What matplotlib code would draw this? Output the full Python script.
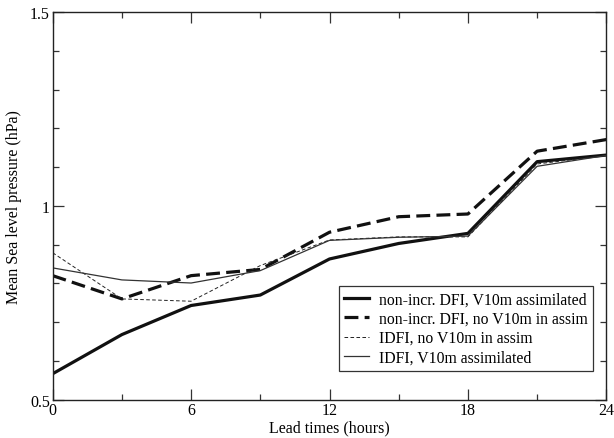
import matplotlib
matplotlib.use('Agg')
import matplotlib.pyplot as plt
from matplotlib.ticker import MultipleLocator, FormatStrFormatter

# lead times (hours)
hours = [0, 3, 6, 9, 12, 15, 18, 21, 24]

# mean sea level pressure error (hPa)
dfi_v10m = [0.567, 0.668, 0.743, 0.770, 0.863, 0.903, 0.929, 1.114, 1.131]
dfi_no_v10m = [0.820, 0.760, 0.820, 0.836, 0.932, 0.972, 0.979, 1.141, 1.171]
idfi_no_v10m = [0.879, 0.760, 0.754, 0.846, 0.912, 0.920, 0.920, 1.108, 1.130]
idfi_v10m = [0.840, 0.809, 0.801, 0.833, 0.911, 0.919, 0.922, 1.102, 1.130]

labels = ['non-incr. DFI, V10m assimilated',
          'non-incr. DFI, no V10m in assim',
          'IDFI, no V10m in assim',
          'IDFI, V10m assimilated']

plt.rcParams['font.family'] = ['Liberation Serif', 'DejaVu Serif']
plt.rcParams['lines.scale_dashes'] = False

fig = plt.figure(figsize=(6.14, 4.39), dpi=100)
ax = fig.add_axes([0.0858, 0.0872, 0.9017, 0.8832])

ax.plot(hours, dfi_v10m, color='#111111', lw=2.3, label=labels[0])
ax.plot(hours, dfi_no_v10m, color='#111111', lw=2.3, dashes=(10, 4.5), label=labels[1])
ax.plot(hours, idfi_no_v10m, color='#222222', lw=0.7, dashes=(2.6, 1.7), label=labels[2])
ax.plot(hours, idfi_v10m, color='#333333', lw=0.9, label=labels[3])

ax.set_xlim(0, 24)
ax.set_ylim(0.5, 1.5)
ax.xaxis.set_major_locator(MultipleLocator(6))
ax.xaxis.set_minor_locator(MultipleLocator(3))
ax.yaxis.set_major_locator(MultipleLocator(0.5))
ax.yaxis.set_minor_locator(MultipleLocator(0.1))
ax.yaxis.set_major_formatter(FormatStrFormatter('%g'))

ax.tick_params(which='both', direction='in', top=True, right=True,
               labelsize=11.5, pad=2, width=0.9, color='#333333')
ax.tick_params(which='major', length=8)
ax.tick_params(which='minor', length=4.3)
for s in ax.spines.values():
    s.set_linewidth(1.0)
    s.set_color('#222222')

ax.set_xlabel('Lead times (hours)', fontsize=11.5, labelpad=1)
ax.set_ylabel('Mean Sea level pressure (hPa)', fontsize=11.5, labelpad=6)

leg = ax.legend(loc='lower right', bbox_to_anchor=(0.976, 0.075), borderaxespad=0,
                fontsize=11.3, fancybox=False, framealpha=1, edgecolor='#333333',
                handlelength=1.55, handletextpad=0.65, borderpad=0.35, labelspacing=0.2)
leg.get_frame().set_linewidth(0.9)

fig.savefig('out.png', dpi=100)
